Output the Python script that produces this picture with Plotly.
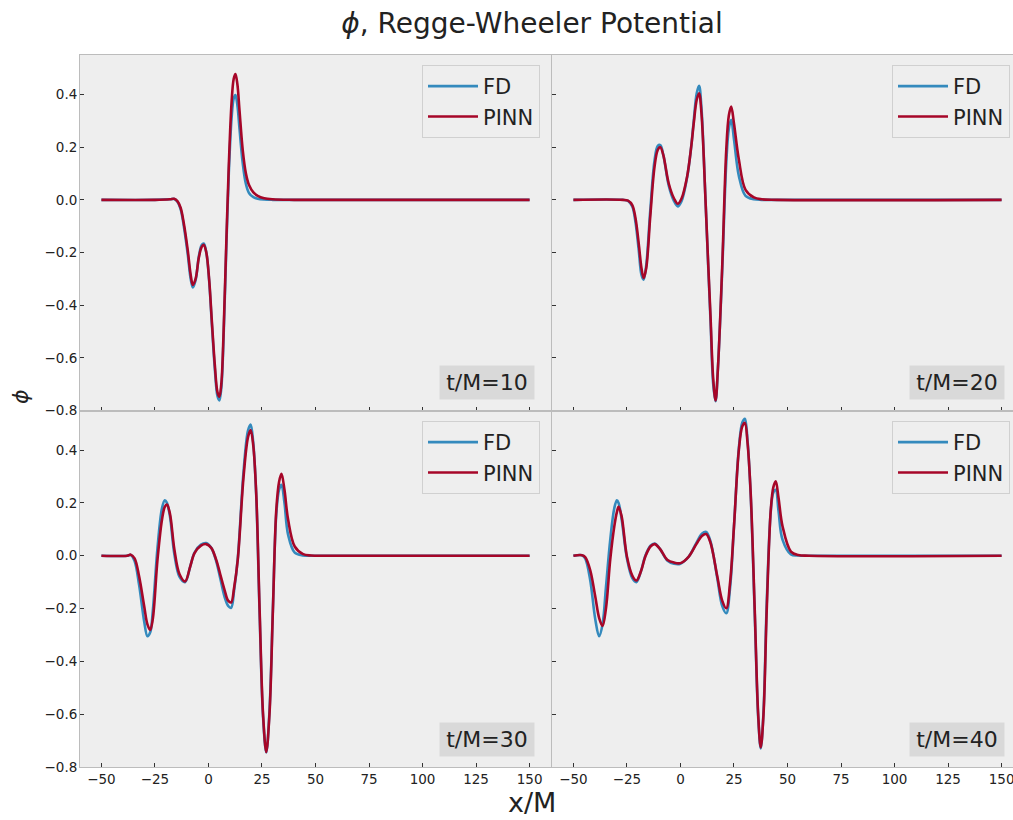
import plotly.graph_objects as go

# ---------------- data ----------------
x_t10 = [-50, -25, -18, -16, -14.5, -13, -11.5, -9.7, -8.3, -7.3, -6, -4.5, -3.2, -2.2, -1, 0.3,
         1.5, 3, 4.2, 5.1, 6, 7, 8.2, 9.5, 10.8, 11.8, 12.6, 13.5, 14.5, 16, 17.5, 19, 21, 23,
         26, 30, 40, 150]
fd_t10 = [0, 0, 0.002, 0.003, -0.007, -0.035, -0.1, -0.205, -0.3, -0.333, -0.305, -0.215, -0.172,
          -0.166, -0.2, -0.305, -0.46, -0.645, -0.745, -0.762, -0.715, -0.54, -0.22, 0.1, 0.31,
          0.385, 0.398, 0.36, 0.27, 0.14, 0.06, 0.025, 0.01, 0.004, 0.001, 0, 0, 0]
pinn_t10 = [0, 0, 0.002, 0.004, -0.005, -0.03, -0.09, -0.19, -0.285, -0.323, -0.3, -0.22, -0.18,
            -0.171, -0.2, -0.3, -0.45, -0.63, -0.73, -0.748, -0.7, -0.52, -0.2, 0.13, 0.37,
            0.46, 0.478, 0.44, 0.34, 0.19, 0.10, 0.055, 0.028, 0.015, 0.006, 0.002, 0, 0]

x_t20 = [-50, -27, -24.5, -22.5, -21, -19.5, -18.2, -17.2, -16, -14.1, -12.1, -10.6, -9.4, -8,
         -5.5, -3, -1.25, 0.5, 3.1, 5, 6.2, 7.6, 8.7, 9.8, 11.7, 13, 14.05, 15.3, 16.4, 17.5,
         19.5, 21.4, 22.6, 23.7, 25, 27.3, 30.4, 34.3, 38, 45, 150]
fd_t20 = [0, 0, -0.004, -0.025, -0.085, -0.19, -0.285, -0.303, -0.25, -0.04, 0.15, 0.205, 0.208,
          0.17, 0.055, -0.005, -0.025, -0.005, 0.085, 0.2, 0.3, 0.405, 0.433, 0.35, 0.0, -0.26,
          -0.46, -0.7, -0.765, -0.64, -0.27, 0.14, 0.27, 0.304, 0.23, 0.09, 0.015, 0.002, 0, 0, 0]
pinn_t20 = [0, 0, -0.003, -0.02, -0.07, -0.165, -0.26, -0.297, -0.26, -0.063, 0.126, 0.19, 0.2,
            0.17, 0.063, 0.005, -0.015, 0.005, 0.088, 0.2, 0.29, 0.38, 0.405, 0.33, 0.0, -0.25,
            -0.443, -0.68, -0.762, -0.64, -0.253, 0.19, 0.32, 0.354, 0.29, 0.152, 0.038, 0.009,
            0.002, 0, 0]

x_t30 = [-50, -38, -36.3, -34.5, -32.4, -30, -28.5, -27.2, -26, -23.8, -21.7, -20.4, -19.4, -18,
         -15.9, -13.5, -10.9, -8.5, -6.5, -3.5, -1.1, 1.3, 3.6, 5.5, 7.5, 9.2, 10.6, 12, 13.7,
         16.4, 18.5, 19.7, 20.9, 22.3, 23.9, 25.5, 27.0, 28.5, 30.1, 31.7, 33, 34.1, 35.5, 37.2,
         40.3, 44.2, 48, 55, 150]
fd_t30 = [0, 0, 0.003, -0.02, -0.11, -0.25, -0.305, -0.29, -0.21, 0.03, 0.18, 0.21, 0.2, 0.15,
          0.005, -0.08, -0.1, -0.04, 0.012, 0.042, 0.048, 0.03, -0.02, -0.085, -0.155, -0.19,
          -0.197, -0.13, -0.01, 0.32, 0.475, 0.497, 0.43, 0.23, -0.22, -0.61, -0.745, -0.59,
          -0.2, 0.16, 0.25, 0.269, 0.2, 0.08, 0.012, 0.001, 0, 0, 0]
pinn_t30 = [0, 0, 0.004, -0.01, -0.078, -0.192, -0.26, -0.281, -0.24, -0.015, 0.137, 0.185, 0.194,
            0.16, 0.023, -0.07, -0.097, -0.04, 0.01, 0.038, 0.044, 0.03, -0.015, -0.07, -0.129,
            -0.17, -0.177, -0.12, -0.015, 0.30, 0.45, 0.476, 0.42, 0.238, -0.205, -0.6, -0.743,
            -0.6, -0.205, 0.175, 0.28, 0.31, 0.25, 0.137, 0.035, 0.006, 0.001, 0, 0]

x_t40 = [-50, -46, -44.5, -42.2, -39.8, -38, -36.4, -34.8, -32.8, -30.9, -29.7, -28.9, -27.5, -25,
         -22.5, -20.6, -18.5, -16.4, -14, -12, -9.5, -6.2, -3, 0, 3.9, 7.5, 10, 12, 14, 17.2,
         19.5, 21.4, 23.2, 25, 27.3, 28.9, 30.1, 31.3, 32.8, 34.7, 36.3, 37.5, 38.8, 40.3, 42.2,
         43.4, 44.5, 45.8, 47.7, 51.6, 55, 60, 150]
fd_t40 = [0, 0.002, -0.01, -0.09, -0.24, -0.305, -0.26, -0.12, 0.06, 0.18, 0.21, 0.2, 0.14, -0.01,
          -0.085, -0.1, -0.06, 0.0, 0.038, 0.046, 0.025, -0.018, -0.03, -0.03, -0.003, 0.05, 0.083,
          0.09, 0.055, -0.085, -0.19, -0.218, -0.12, 0.11, 0.41, 0.505, 0.519, 0.44, 0.23, -0.22,
          -0.61, -0.73, -0.59, -0.18, 0.17, 0.24, 0.25, 0.17, 0.06, 0.005, 0.001, 0, 0]
pinn_t40 = [0, 0.002, -0.005, -0.053, -0.154, -0.235, -0.266, -0.2, -0.015, 0.111, 0.165, 0.185,
            0.15, -0.003, -0.075, -0.094, -0.06, -0.003, 0.035, 0.044, 0.025, -0.015, -0.026,
            -0.028, -0.003, 0.045, 0.075, 0.082, 0.05, -0.078, -0.17, -0.199, -0.1, 0.111, 0.402,
            0.49, 0.503, 0.43, 0.238, -0.205, -0.6, -0.726, -0.6, -0.205, 0.175, 0.26, 0.282,
            0.22, 0.111, 0.016, 0.003, 0, 0]

panel_labels = ["t/M=10", "t/M=20", "t/M=30", "t/M=40"]
series_names = ["FD", "PINN"]
x_ticks = [-50, -25, 0, 25, 50, 75, 100, 125, 150]
y_ticks = [-0.8, -0.6, -0.4, -0.2, 0.0, 0.2, 0.4]

panels = [(x_t10, fd_t10, pinn_t10), (x_t20, fd_t20, pinn_t20),
          (x_t30, fd_t30, pinn_t30), (x_t40, fd_t40, pinn_t40)]

# ---------------- styling ----------------
W, H = 1013, 820
BLUE = "#348ABD"
RED = "#A60628"
FONT = "DejaVu Sans"
TXT = "#222222"

fig = go.Figure()
legend_ids = ["legend", "legend2", "legend3", "legend4"]
for i, (xs, fd, pinn) in enumerate(panels):
    k = "" if i == 0 else str(i + 1)
    for name, ys, col in ((series_names[0], fd, BLUE), (series_names[1], pinn, RED)):
        fig.add_trace(go.Scatter(
            x=xs, y=ys, mode="lines", name=name,
            line=dict(color=col, width=2.6, shape="spline", smoothing=1.0),
            xaxis="x" + k, yaxis="y" + k, legend=legend_ids[i]))

L0, L1 = 80 / W, 551 / W
R0, R1 = 552 / W, 1.0
T0, T1 = 1 - 410.5 / H, 1 - 55 / H
B0, B1 = 1 - 767 / H, 1 - 410.5 / H
px_per_unit = (551 - 80) / 220.0
right_max = -60 + (W - 552) / px_per_unit

common_x = dict(showgrid=False, zeroline=False, showline=True, mirror=True,
                linecolor="#BCBCBC", linewidth=1, ticks="inside", ticklen=4,
                tickcolor="#333333", tickvals=x_ticks, ticklabeloverflow="allow",
                automargin=False,
                tickfont=dict(family=FONT, size=13.5, color=TXT))
common_y = dict(showgrid=False, zeroline=False, showline=True, mirror=True,
                linecolor="#BCBCBC", linewidth=1, ticks="inside", ticklen=4,
                tickcolor="#333333", tickvals=y_ticks, tickformat=".1f",
                range=[-0.8, 0.55], ticklabeloverflow="allow", automargin=False,
                ticklabelstandoff=-1,
                tickfont=dict(family=FONT, size=13.5, color=TXT))

layout = dict(
    template="none",
    width=W, height=H, autosize=False,
    margin=dict(l=0, r=0, t=0, b=0, pad=0, autoexpand=False),
    paper_bgcolor="white", plot_bgcolor="#EEEEEE",
    showlegend=True,
    xaxis=dict(common_x, domain=[L0, L1], anchor="y", range=[-60, 160], showticklabels=False),
    xaxis2=dict(common_x, domain=[R0, R1], anchor="y2", range=[-60, right_max], showticklabels=False),
    xaxis3=dict(common_x, domain=[L0, L1], anchor="y3", range=[-60, 160]),
    xaxis4=dict(common_x, domain=[R0, R1], anchor="y4", range=[-60, right_max]),
    yaxis=dict(common_y, domain=[T0, T1], anchor="x"),
    yaxis2=dict(common_y, domain=[T0, T1], anchor="x2", showticklabels=False),
    yaxis3=dict(common_y, domain=[B0, B1], anchor="x3"),
    yaxis4=dict(common_y, domain=[B0, B1], anchor="x4", showticklabels=False),
    title=dict(text="<i>ϕ</i>, Regge-Wheeler Potential", x=532 / W, y=1 - 23 / H,
               xanchor="center", yanchor="middle",
               font=dict(family=FONT, size=28, color=TXT)),
)

leg_pos = [(540, 65), (1010, 65), (540, 421), (1010, 421)]
for lid, (lx, ly) in zip(legend_ids, leg_pos):
    layout[lid] = dict(x=lx / W, y=1 - ly / H, xanchor="right", yanchor="top",
                       xref="paper", yref="paper", itemwidth=50,
                       bgcolor="#EEEEEE", bordercolor="#D0D0D0", borderwidth=1,
                       font=dict(family=FONT, size=21, color=TXT))
fig.update_layout(**layout)

ann_pos = [(535, 400), (1005, 400), (535, 756.5), (1005, 756.5)]
for lab, (ax_, ay_) in zip(panel_labels, ann_pos):
    fig.add_annotation(text="\u200a" + lab + "\u200a", x=ax_ / W, y=1 - ay_ / H,
                       xref="paper", yref="paper",
                       xanchor="right", yanchor="bottom", showarrow=False,
                       bgcolor="#D9D9D9", borderpad=4,
                       font=dict(family=FONT, size=22, color=TXT))

fig.add_annotation(text="x/M", x=532 / W, y=1 / H, xref="paper", yref="paper",
                   xanchor="center", yanchor="bottom", showarrow=False, borderpad=0,
                   font=dict(family=FONT, size=27, color=TXT))
fig.add_annotation(text="<i>ϕ</i>", x=20 / W, y=1 - 397 / H, xref="paper", yref="paper",
                   xanchor="center", yanchor="middle", showarrow=False, textangle=-90,
                   font=dict(family=FONT, size=22, color=TXT))

fig.write_html("out.html", config={"displayModeBar": False})
